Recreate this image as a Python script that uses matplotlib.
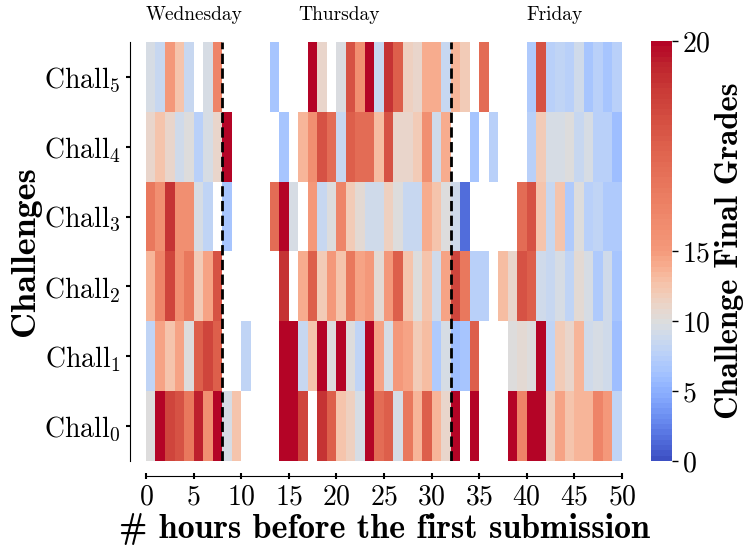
"""
Heatmap of challenge final grades over the hours before the first submission.
"""
import matplotlib.pyplot as plt
import numpy as np
from matplotlib.colors import Normalize


nan = np.nan

challenges = ['Chall$_0$', 'Chall$_1$', 'Chall$_2$',
              'Chall$_3$', 'Chall$_4$', 'Chall$_5$']
days = ['Wednesday', 'Thursday', 'Friday']
day_start = [0, 16, 40]
deadlines = [8, 32]
xticks = [0, 5, 10, 15, 20, 25, 30, 35, 40, 45, 50]
cbar_ticks = [0, 5, 10, 15, 20]

# one value per hour (0..49), nan = no submission in that hour
chall_0 = [10, 20, 18.5, 18, 16.5, 19.5, 15.5, 20, 9.5, 12.5,
           nan, nan, nan, nan, 20, 20, 18.5, nan, 19, 17.5,
           12.5, 11.5, 9.5, 20, 17, 17.5, 9.5, 16.5, 13.5, 17.5,
           13.5, 11, 20, nan, 20, nan, nan, nan, 20, 16,
           20, 20, 11.5, 14.5, 12.5, 13.5, 13.5, 16, 15, 8]
chall_1 = [8, 14.5, 12.5, 14.5, 10, 17.5, 18.5, 17.5, nan, nan,
           8, nan, nan, nan, 20, 20, 8.5, 12.5, 20, 10,
           20, 10, 8, 20, 14.5, 9.5, 15, 14.5, 12, 13,
           7, 9.5, 6, 6.5, 17.5, nan, nan, nan, 10, 10.5,
           10, 20, 8, 12, 11, 13.5, 9, 9.5, 9, 6]
chall_2 = [13.5, 16, 18.5, 15.5, 16.5, 12, 14.5, 18, nan, nan,
           nan, nan, nan, nan, 19, nan, 14, 17.5, 12, 15,
           12.5, 16.5, 14.5, 15, 10.5, 15, 17.5, 12.5, 10, 12.5,
           9, 14.5, 18.5, 16.5, 7.5, 7.5, nan, 13, 11, 18,
           17.5, 9, 8.5, 9.5, 8, 10.5, 9.5, 7, 9, 6.5]
chall_3 = [16.5, 15.5, 19, 15.5, 15.5, 9.5, 8, nan, 6.5, nan,
           nan, nan, nan, 17, 20, 9.5, nan, 15, 8.5, 10,
           16, 12, 10.5, 9, 9, 11.5, 10, 8.5, 8.5, 14,
           12.5, 10, 9, 1.5, nan, nan, nan, nan, nan, 17,
           18, 12.5, 8.5, 12.5, 7, 10, 7.5, 8, 7, 7]
chall_4 = [11, 12.5, 11, 9, 10, 7.5, 9.5, 11, 20, nan,
           nan, nan, nan, nan, 6.5, nan, 13.5, 15.5, 18, 17,
           8.5, 17.5, 17, 17, 13, 18, 11, 11, 12, 15.5,
           9, 14, nan, nan, 6.5, nan, 7.5, nan, nan, nan,
           7.5, 12, 9.5, 9.5, 10, 8.5, 9.5, 7.5, 7.5, 6]
chall_5 = [9.5, 8.5, 15, 12.5, 8.5, nan, 9.5, 16, nan, nan,
           nan, nan, nan, 6.5, nan, nan, nan, 20, 11, nan,
           9.8, 18, 15.5, 20, 8.5, 19, 17.5, 11.5, 11, 14,
           14, 8.5, 13.5, 12, nan, 17, nan, nan, nan, nan,
           7, 18, 7.5, 8, 7.5, 9, 6.5, 7.5, 6.5, 7.5]


def main():
    plt.rcParams['font.family'] = 'cmr10'
    plt.rcParams['mathtext.fontset'] = 'cm'
    plt.rcParams['axes.formatter.use_mathtext'] = True

    grades = np.array([chall_0, chall_1, chall_2, chall_3, chall_4, chall_5])
    x_edges = np.arange(grades.shape[1] + 1)
    y_edges = np.arange(grades.shape[0] + 1)

    fig = plt.figure(figsize=(7.47, 5.46), dpi=100)
    ax = fig.add_axes([0.1954, 0.1557, 0.6372, 0.7674])
    cax = fig.add_axes([0.8715, 0.1557, 0.0281, 0.7692])

    norm = Normalize(vmin=0, vmax=20)
    mesh = ax.pcolormesh(x_edges, y_edges, np.ma.masked_invalid(grades),
                         cmap='coolwarm', norm=norm)
    for d in deadlines:
        ax.axvline(d, color='black', linestyle='--', linewidth=2)

    ax.set_xlim(0, 50)
    ax.set_ylim(0, 6)
    ax.set_xticks(xticks)
    ax.set_yticks(np.arange(len(challenges)) + 0.5)
    ax.set_yticklabels(challenges)
    ax.tick_params(axis='both', labelsize=20)
    ax.tick_params(axis='x', direction='inout', length=5, width=1.5)
    ax.tick_params(axis='y', direction='out', length=3, width=1.5)

    for side in ('top', 'right'):
        ax.spines[side].set_visible(False)
    ax.spines['left'].set_position(('outward', 11.5))
    ax.spines['bottom'].set_position(('outward', 10.5))
    ax.spines['left'].set_bounds(0, 6)
    ax.spines['bottom'].set_bounds(0, 50)

    ax.set_xlabel('# hours before the first submission', fontsize=24.5,
                  family='cmb10', labelpad=2)
    ax.set_ylabel('Challenges', fontsize=26, family='cmb10', labelpad=2)

    trans = ax.get_xaxis_transform()
    for name, start in zip(days, day_start):
        ax.text(start, 1.052, name, transform=trans, fontsize=14,
                ha='left', va='baseline')

    # colorbar: lower half spans 0-15, upper half 15-20
    bounds = np.concatenate([np.linspace(0, 15, 41),
                             np.linspace(15, 20, 41)[1:]])
    cbar = fig.colorbar(mesh, cax=cax, boundaries=bounds, ticks=cbar_ticks)
    cbar.outline.set_visible(False)
    cax.tick_params(labelsize=20, length=4, width=1)
    cbar.set_label('Challenge Final Grades', fontsize=23.5, family='cmb10')
    cax.yaxis.set_label_coords(3.05, 0.5)

    fig.savefig('out.png', dpi=100)
    print("saved to out.png")


if __name__ == '__main__':
    main()
